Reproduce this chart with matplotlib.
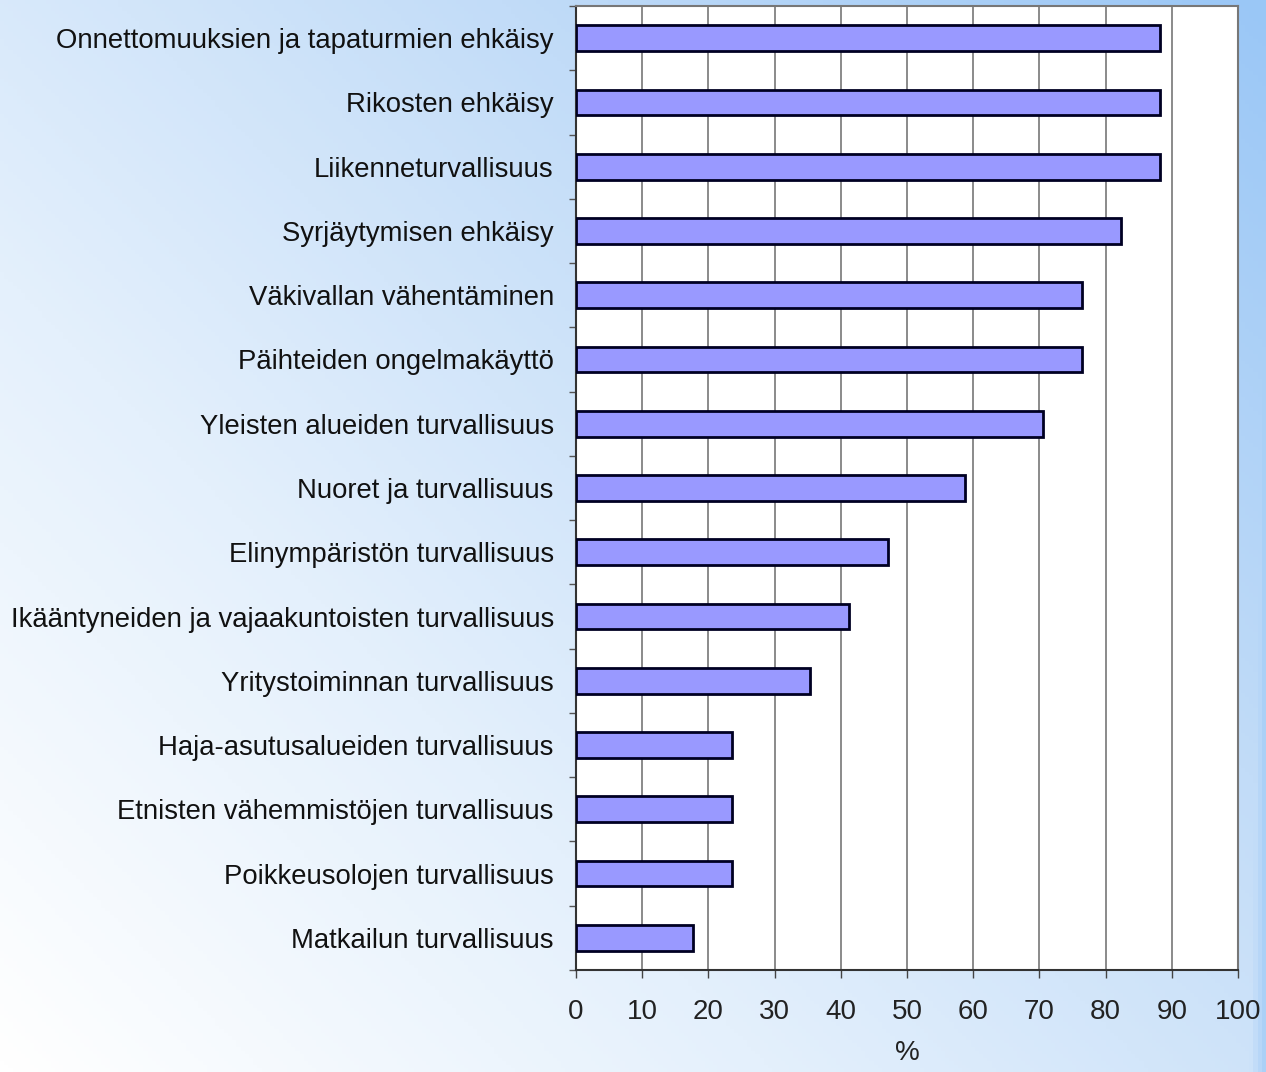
import numpy as np
import matplotlib
matplotlib.use("Agg")
import matplotlib.pyplot as plt
from matplotlib.colors import LinearSegmentedColormap

categories = [
    "Onnettomuuksien ja tapaturmien ehkäisy",
    "Rikosten ehkäisy",
    "Liikenneturvallisuus",
    "Syrjäytymisen ehkäisy",
    "Väkivallan vähentäminen",
    "Päihteiden ongelmakäyttö",
    "Yleisten alueiden turvallisuus",
    "Nuoret ja turvallisuus",
    "Elinympäristön turvallisuus",
    "Ikääntyneiden ja vajaakuntoisten turvallisuus",
    "Yritystoiminnan turvallisuus",
    "Haja-asutusalueiden turvallisuus",
    "Etnisten vähemmistöjen turvallisuus",
    "Poikkeusolojen turvallisuus",
    "Matkailun turvallisuus",
]
values = [88.2, 88.2, 88.2, 82.4, 76.5, 76.5, 70.6, 58.8, 47.1, 41.2, 35.3, 23.5, 23.5, 23.5, 17.6]
xticks = [0, 10, 20, 30, 40, 50, 60, 70, 80, 90, 100]
xlabel = "%"

plt.rcParams['font.family'] = ['Liberation Sans', 'DejaVu Sans']

W, H = 1266, 1072
fig = plt.figure(figsize=(W / 100, H / 100), dpi=100)

# background gradient
bg = fig.add_axes([0, 0, 1, 1], zorder=-10)
xx, yy = np.meshgrid(np.linspace(0, 1, 300), np.linspace(0, 1, 300))
t = np.clip(0.55 * xx + 0.45 * yy, 0, 1) ** 1.0
t = np.maximum(t, np.clip((xx - 0.97) / 0.03, 0, 1) * 0.85)
cmap = LinearSegmentedColormap.from_list("bgc", ["#ffffff", "#e4f0fc", "#c2dcf8", "#9ac7f6"])
bg.imshow(t, cmap=cmap, origin="lower", extent=[0, 1, 0, 1], aspect="auto", vmin=0, vmax=1)
bg.axis("off")

left, right = 576 / W, 1238 / W
bottom, top = 1 - 970 / H, 1 - 6 / H
ax = fig.add_axes([left, bottom, right - left, top - bottom])
ax.set_facecolor("white")

y = np.arange(len(categories))
ax.barh(y, values, height=0.4, color="#9999ff", edgecolor="#000022", linewidth=2, zorder=3)
ax.set_ylim(len(categories) - 0.5, -0.5)
ax.set_xlim(0, 100)
ax.set_xticks(xticks)
ax.set_xticklabels([str(v) for v in xticks], fontsize=20, color="#222222")
ax.set_yticks(y)
ax.set_yticklabels(categories, fontsize=19.8, color="#111111")
ax.tick_params(axis="y", length=0, pad=16)
ax.set_yticks(np.arange(len(categories) + 1) - 0.5, minor=True)
ax.tick_params(axis="y", which="minor", length=5, width=1, color="#555555", direction="out")
ax.tick_params(axis="x", length=6, width=1, color="#444444", direction="out", pad=15)
ax.grid(axis="x", color="#777777", linewidth=1.2, zorder=0)
ax.set_axisbelow(True)
for s in ["left", "bottom"]:
    ax.spines[s].set_color("#333333")
    ax.spines[s].set_linewidth(1.5)
for s in ["top", "right"]:
    ax.spines[s].set_color("#777777")
    ax.spines[s].set_linewidth(1.5)
ax.set_xlabel(xlabel, fontsize=20, color="#222222", labelpad=11)

fig.savefig("out.png", dpi=100)
